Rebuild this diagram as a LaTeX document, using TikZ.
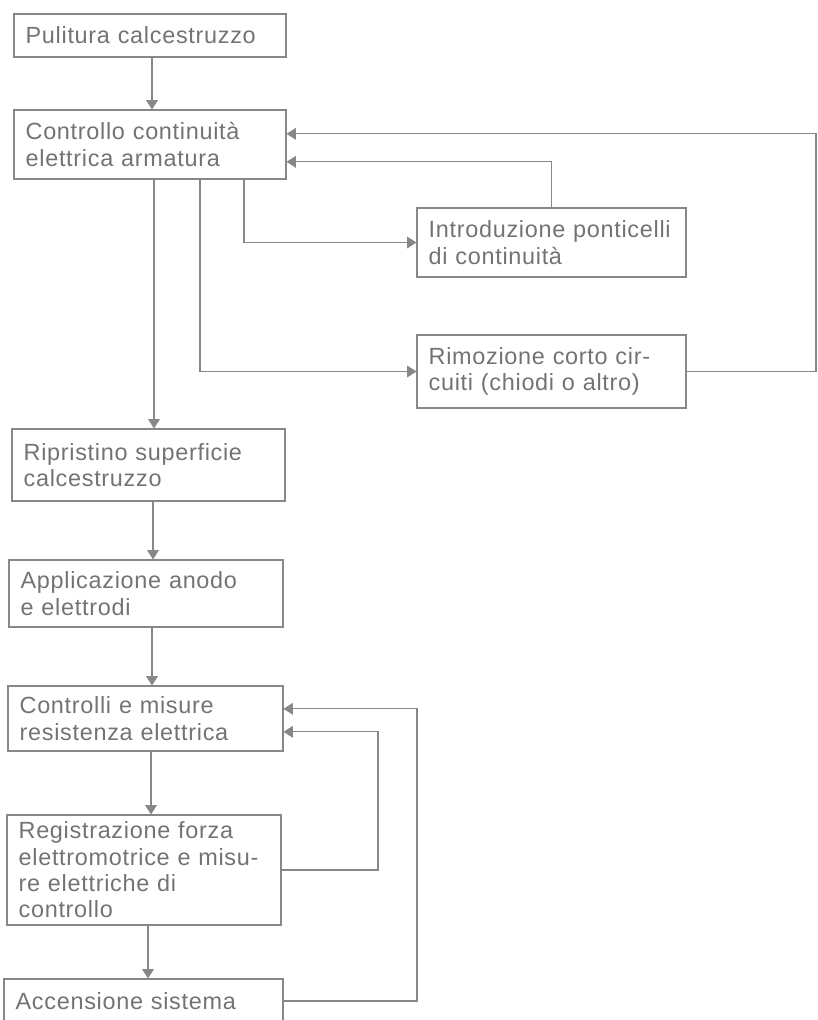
\documentclass[tikz,border=0pt]{standalone}
\usepackage{fontspec}
\setmainfont{Liberation Sans}[LetterSpace=3]
\usetikzlibrary{arrows.meta}
\definecolor{linegray}{RGB}{135,135,135}
\definecolor{textgray}{RGB}{115,115,115}
\tikzset{
  box/.style={draw=linegray, line width=0.9pt, text=textgray, align=left,
    inner xsep=0.35cm, inner ysep=2pt, text width=#1,
    font=\fontsize{20}{22.5}\selectfont},
  flow/.style={draw=linegray, line width=0.9pt, -{Triangle[length=8pt,width=10pt]}},
}
\begin{document}
\begin{tikzpicture}[x=0.03cm,y=-0.03cm]
\useasboundingbox (0,0) rectangle (817,1020);

\node[box=7.46cm, minimum height=1.29cm] (puli) at (150,35.5) {Pulitura calcestruzzo};
\node[box=7.46cm, minimum height=2.07cm] (cont) at (150,144.5) {Controllo continuità\\elettrica armatura};
\node[box=7.37cm, minimum height=2.07cm] (intr) at (551.5,242.5) {Introduzione ponticelli\\di continuità};
\node[box=7.37cm, minimum height=2.19cm] (rimo) at (551.5,371.5) {Rimozione corto cir-\\cuiti (chiodi o altro)};
\node[box=7.49cm, minimum height=2.16cm] (ripr) at (148.5,465) {Ripristino superficie\\calcestruzzo};
\node[box=7.52cm, minimum height=2.01cm] (appl) at (146,593.5) {Applicazione anodo\\e elettrodi};
\node[box=7.55cm, minimum height=1.95cm] (misu) at (145.5,718.5) {Controlli e misure\\resistenza elettrica};
\node[box=7.52cm, minimum height=3.3cm] (regi) at (144,870) {Registrazione forza\\elettromotrice e misu-\\re elettriche di\\controllo};
\node[box=7.67cm, minimum height=1.32cm] (acce) at (143.5,1001) {Accensione sistema};

\coordinate (rimr) at (816,0);
\coordinate (regr) at (378,0);
\coordinate (accr) at (417,0);

\draw[flow] ([xshift=0.06cm]puli.south) -- ([xshift=0.06cm]cont.north);
\draw[flow] ([xshift=0.12cm]cont.south) -- ([xshift=0.12cm]cont.south |- ripr.north);
\draw[flow] ([xshift=1.5cm]cont.south) |- (rimo.west);
\draw[flow] ([xshift=2.82cm]cont.south) |- (intr.west);
\draw[flow] (intr.north) |- ([yshift=-0.52cm]cont.east);
\draw[flow] (rimo.east) -- (rimo.east -| rimr) |- ([yshift=0.32cm]cont.east);

\draw[flow] ([xshift=0.135cm]ripr.south) -- ([xshift=0.135cm]ripr.south |- appl.north);
\draw[flow] ([xshift=0.18cm]appl.south) -- ([xshift=0.18cm]appl.south |- misu.north);
\draw[flow] ([xshift=0.165cm]misu.south) -- ([xshift=0.165cm]misu.south |- regi.north);
\draw[flow] ([xshift=0.12cm]regi.south) -- ([xshift=0.12cm]regi.south |- acce.north);

\draw[flow] (regi.east) -- (regi.east -| regr) |- ([yshift=-0.4cm]misu.east);
\draw[flow] (acce.east) -- (acce.east -| accr) |- ([yshift=0.29cm]misu.east);
\end{tikzpicture}
\end{document}
